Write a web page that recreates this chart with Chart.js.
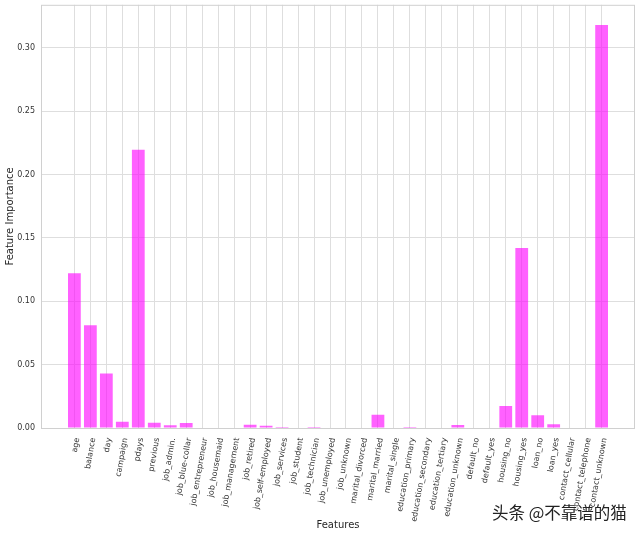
<!DOCTYPE html>
<html>
<head>
<meta charset="utf-8">
<script src="https://cdn.jsdelivr.net/npm/chart.js@4.4.0/dist/chart.umd.min.js"></script>
<style>
  html, body { margin: 0; padding: 0; background: #fff; }
  #wrap { position: relative; width: 640px; height: 536px; }
  #mark { position: absolute; left: 492px; top: 500px; font: 16.5px "Noto Sans CJK SC"; color: #222; white-space: nowrap; }
</style>
</head>
<body>
<div id="wrap">
  <canvas id="chartArea" width="640" height="536"></canvas>
  <div id="mark">头条 @不靠谱的猫</div>
</div>
<script>
// ----------------------------
// data
// ----------------------------
const features = [
  'age', 'balance', 'day', 'campaign', 'pdays', 'previous',
  'job_admin.', 'job_blue-collar', 'job_entrepreneur', 'job_housemaid', 'job_management',
  'job_retired', 'job_self-employed', 'job_services', 'job_student', 'job_technician',
  'job_unemployed', 'job_unknown',
  'marital_divorced', 'marital_married', 'marital_single',
  'education_primary', 'education_secondary', 'education_tertiary', 'education_unknown',
  'default_no', 'default_yes', 'housing_no', 'housing_yes', 'loan_no', 'loan_yes',
  'contact_cellular', 'contact_telephone', 'contact_unknown'
];
const importance = [
  0.122, 0.081, 0.043, 0.005, 0.2195, 0.0042,
  0.0021, 0.0039, 0, 0, 0,
  0.0026, 0.0018, 0.0008, 0, 0.0008,
  0, 0,
  0, 0.0105, 0,
  0.0008, 0, 0, 0.0024,
  0, 0, 0.0174, 0.1419, 0.0100, 0.0029,
  0, 0, 0.3179
];
const yTicks = [0, 0.05, 0.10, 0.15, 0.20, 0.25, 0.30];

// matplotlib-like margins
const n = features.length;
const xMargin = 0.05 * (n - 0.2);
const yMax = Math.max(...importance) * 1.05;

const gridColor = '#dedede';
const textColor = '#333333';
const font = { family: 'DejaVu Sans', size: 8 };

// light frame round the plot
const framePlugin = {
  id: 'frame',
  beforeDatasetsDraw(chart) {
    const a = chart.chartArea, ctx = chart.ctx;
    ctx.save();
    ctx.strokeStyle = '#d0d0d0';
    ctx.lineWidth = 1;
    ctx.strokeRect(a.left + 0.5, a.top + 0.5, a.right - a.left - 1, a.bottom - a.top);
    ctx.restore();
  }
};

new Chart(document.getElementById('chartArea'), {
  type: 'bar',
  data: {
    datasets: [{
      data: importance.map((v, i) => ({ x: i, y: v })),
      backgroundColor: 'rgba(255, 0, 255, 0.62)',
      borderWidth: 0,
      barPercentage: 0.8,
      categoryPercentage: 1.0
    }]
  },
  options: {
    responsive: false,
    animation: false,
    devicePixelRatio: 1,
    layout: { padding: { top: 0, right: 5, left: 0, bottom: 0 } },
    plugins: { legend: { display: false }, tooltip: { enabled: false } },
    scales: {
      x: {
        type: 'linear',
        offset: false,
        min: -0.4 - xMargin,
        max: n - 1 + 0.4 + xMargin,
        afterBuildTicks: s => { s.ticks = features.map((_, i) => ({ value: i })); },
        afterFit: s => { s.height = 108; },
        grid: { color: gridColor, lineWidth: 1, drawTicks: false, offset: false },
        border: { display: false },
        ticks: {
          autoSkip: false,
          minRotation: 80,
          maxRotation: 80,
          padding: 9,
          labelOffset: 3,
          color: textColor,
          font: font,
          callback: v => features[v]
        },
        title: {
          display: true,
          text: 'Features',
          color: '#262626',
          font: { family: 'DejaVu Sans', size: 10 },
          padding: { top: 0, bottom: 5 }
        }
      },
      y: {
        min: 0,
        max: yMax,
        afterBuildTicks: s => { s.ticks = yTicks.map(v => ({ value: v })); },
        afterFit: s => { s.width = 41; },
        grid: { color: gridColor, lineWidth: 1, drawTicks: true, tickLength: 6, tickColor: 'rgba(0,0,0,0)' },
        border: { display: false },
        ticks: {
          padding: 0,
          color: textColor,
          font: font,
          callback: v => v.toFixed(2)
        },
        title: {
          display: true,
          text: 'Feature Importance',
          color: '#262626',
          font: { family: 'DejaVu Sans', size: 10 },
          padding: { top: 4, bottom: 0 }
        }
      }
    }
  },
  plugins: [framePlugin]
});
</script>
</body>
</html>
